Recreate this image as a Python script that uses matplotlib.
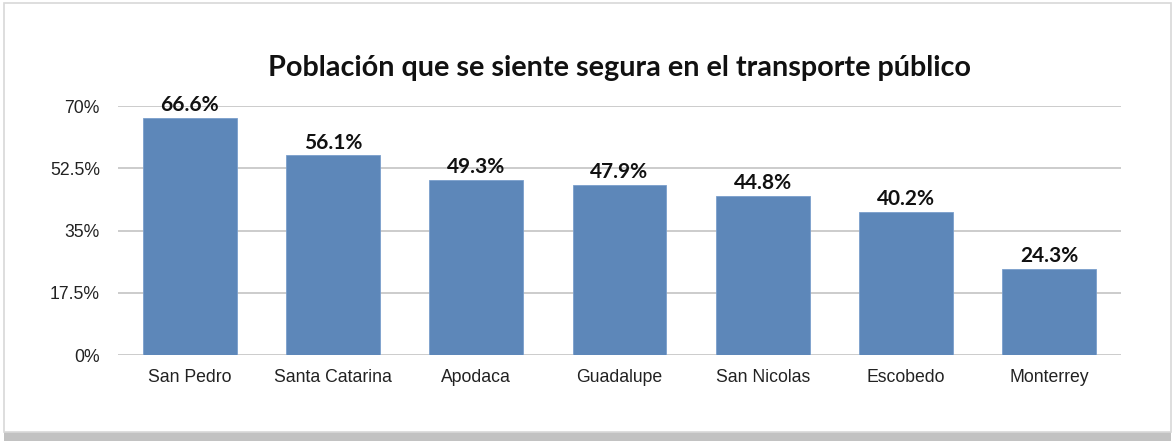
import numpy as np
import matplotlib.pyplot as plt
from matplotlib.patches import Rectangle

# data
cities = ['San Pedro', 'Santa Catarina', 'Apodaca', 'Guadalupe',
          'San Nicolas', 'Escobedo', 'Monterrey']
pct_safe = [66.6, 56.1, 49.3, 47.9, 44.8, 40.2, 24.3]
ytick_vals = [0, 17.5, 35, 52.5, 70]
ytick_labels = ['0%', '17.5%', '35%', '52.5%', '70%']

W, H = 1173, 441
fig = plt.figure(figsize=(W / 100, H / 100), dpi=100)
fig.patch.set_facecolor('white')

# card with a soft shadow underneath
shadow = Rectangle((4 / W, 0), (W - 6) / W, 10 / H, transform=fig.transFigure,
                   facecolor='#c2c2c2', edgecolor='none', zorder=0)
card = Rectangle((4 / W, 9 / H), (W - 6) / W, (H - 12) / H, transform=fig.transFigure,
                 facecolor='white', edgecolor='#d8d8d8', linewidth=1.2, zorder=1)
fig.patches.extend([shadow, card])

ax = fig.add_axes([118 / W, 1 - 355 / H, (1121 - 118) / W, (355 - 106) / H])
ax.set_facecolor('none')
ax.set_zorder(2)

x = np.arange(len(cities))
bars = ax.bar(x, pct_safe, width=0.655, color='#5d87b9', edgecolor='#7a9fcc',
              linewidth=0.6, zorder=2)

for xi, v in zip(x, pct_safe):
    ax.text(xi, v + 0.8, f'{v:.1f}%', ha='center', va='bottom',
            fontsize=15, fontweight='bold', family='Lato', color='#111111', zorder=4)

ax.set_xlim(-0.5, len(cities) - 0.5)
ax.set_ylim(0, 70)
ax.set_yticks(ytick_vals)
ax.set_yticklabels(ytick_labels)
ax.set_xticks(x)
ax.set_xticklabels(cities)
ax.tick_params(axis='y', length=0, pad=13, labelsize=12.7, labelcolor='#222222')
ax.tick_params(axis='x', length=0, pad=10, labelsize=12.7, labelcolor='#222222')
for lab in ax.get_xticklabels() + ax.get_yticklabels():
    lab.set_family('Liberation Sans')

ax.yaxis.grid(True, color='#c4c4c4', linewidth=1.2)
ax.set_axisbelow(True)
for s in ax.spines.values():
    s.set_visible(False)

fig.text(620 / W, 1 - 68 / H, 'Población que se siente segura en el transporte público',
         ha='center', va='center', fontsize=20.7, fontweight='bold', family='Lato',
         color='#111111')

fig.savefig('out.png', dpi=100)
